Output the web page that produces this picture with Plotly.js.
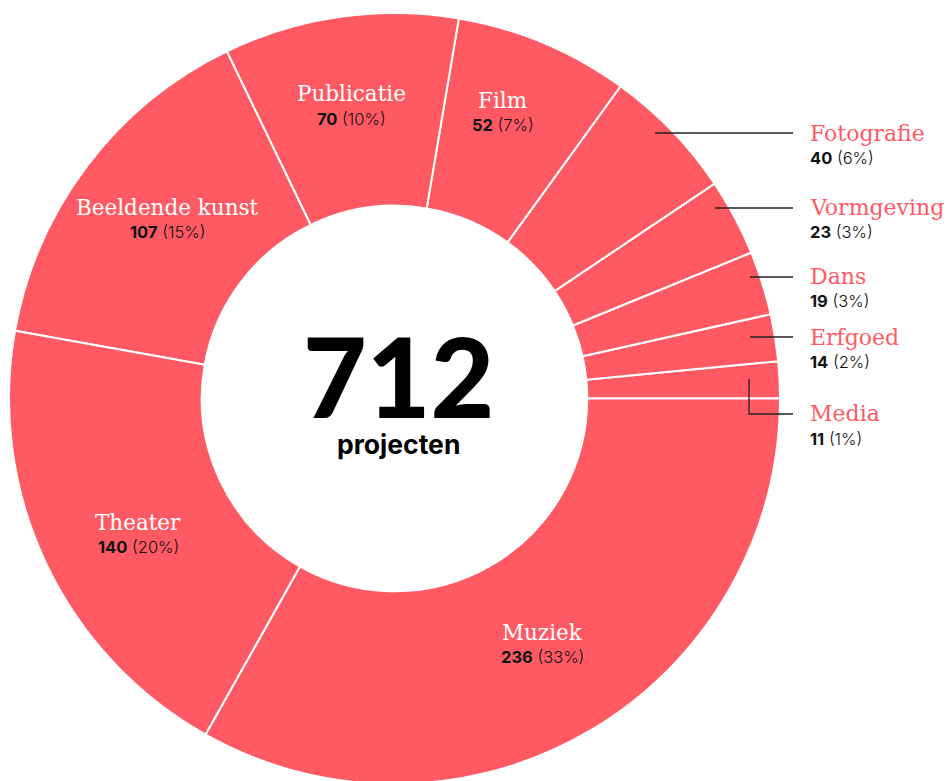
<!DOCTYPE html>
<html>
<head>
<meta charset="utf-8">
<script src="https://cdn.plot.ly/plotly-3.0.1.min.js"></script>
<style>
html,body{margin:0;padding:0;overflow:hidden;background:#fff;}
#chart{width:949px;height:800px;}
</style>
</head>
<body>
<div id="chart"></div>
<script>
// Data (order: counterclockwise from 3 o'clock)
var categories = ["Media", "Erfgoed", "Dans", "Vormgeving", "Fotografie", "Film", "Publicatie", "Beeldende kunst", "Theater", "Muziek"];
var counts = [11, 14, 19, 23, 40, 52, 70, 107, 140, 236];
var percents = ["1%", "2%", "3%", "3%", "6%", "7%", "10%", "15%", "20%", "33%"];
var totalLabel = "712";
var totalSub = "projecten";

var W = 949, H = 800;
var PINK = "#FF5A64";
function px(x){ return x / W; }
function py(y){ return 1 - y / H; }

var total = counts.reduce(function(a, b){ return a + b; }, 0);

// layout positions for labels (pixels) — inside (centered) and outside (left-aligned)
var labelPos = {
  "Publicatie": {x: 351, y: 94, inside: true},
  "Film": {x: 503, y: 100, inside: true},
  "Beeldende kunst": {x: 167, y: 207, inside: true},
  "Theater": {x: 138, y: 522, inside: true},
  "Muziek": {x: 542, y: 632, inside: true},
  "Fotografie": {x: 808, y: 133, inside: false},
  "Vormgeving": {x: 808, y: 207, inside: false},
  "Dans": {x: 808, y: 276, inside: false},
  "Erfgoed": {x: 808, y: 337, inside: false},
  "Media": {x: 808, y: 414, inside: false}
};

var annotations = [];
categories.forEach(function(c, i){
  var p = labelPos[c];
  annotations.push({
    text: c, xref: "paper", yref: "paper", x: px(p.x), y: py(p.y),
    xanchor: p.inside ? "center" : "left", yanchor: "middle", showarrow: false,
    font: {family: "DejaVu Serif", size: p.inside ? 21.5 : 22, color: p.inside ? "#ffffff" : PINK}
  });
  annotations.push({
    text: "<b>" + counts[i] + "</b> (" + percents[i] + ")", xref: "paper", yref: "paper",
    x: px(p.x), y: py(p.y + 25),
    xanchor: p.inside ? "center" : "left", yanchor: "middle", showarrow: false,
    font: {family: "Inter", size: 16.5, color: "#111111", weight: 300}
  });
});
annotations.push({
  text: "<span style='font-family:Lato;font-size:110px;font-weight:900'>" + totalLabel + "</span><br><span style='font-size:26.5px;font-weight:bold'>" + totalSub + "</span>",
  xref: "paper", yref: "paper", x: px(398), y: py(384),
  xanchor: "center", yanchor: "middle", showarrow: false,
  font: {family: "Inter", size: 28, color: "#000000"}
});

var lineStyle = {color: "#222222", width: 1.3};
var shapes = [
  {type: "line", xref: "paper", yref: "paper", x0: px(655), y0: py(133), x1: px(793), y1: py(133), line: lineStyle},
  {type: "line", xref: "paper", yref: "paper", x0: px(715), y0: py(208), x1: px(793), y1: py(208), line: lineStyle},
  {type: "line", xref: "paper", yref: "paper", x0: px(750), y0: py(277), x1: px(793), y1: py(277), line: lineStyle},
  {type: "line", xref: "paper", yref: "paper", x0: px(750), y0: py(337), x1: px(793), y1: py(337), line: lineStyle},
  {type: "path", xref: "paper", yref: "paper",
   path: "M " + px(749) + " " + py(379) + " L " + px(749) + " " + py(414) + " L " + px(793) + " " + py(414),
   line: lineStyle}
];

var trace = {
  type: "pie",
  labels: categories,
  values: counts,
  hole: 0.5,
  sort: false,
  direction: "counterclockwise",
  // first slice (Media) starts at 3 o'clock
  rotation: 90 - counts[0] / total * 360,
  textinfo: "none",
  hoverinfo: "label+value",
  marker: {colors: categories.map(function(){ return PINK; }), line: {color: "#ffffff", width: 2}},
  domain: {x: [9 / W, 780 / W], y: [1 - 784 / H, 1 - 13 / H]},
  showlegend: false
};

Plotly.newPlot("chart", [trace], {
  width: W, height: H,
  margin: {l: 0, r: 0, t: 0, b: 0},
  paper_bgcolor: "#ffffff",
  showlegend: false,
  annotations: annotations,
  shapes: shapes
}, {displayModeBar: false, staticPlot: true});
</script>
</body>
</html>
